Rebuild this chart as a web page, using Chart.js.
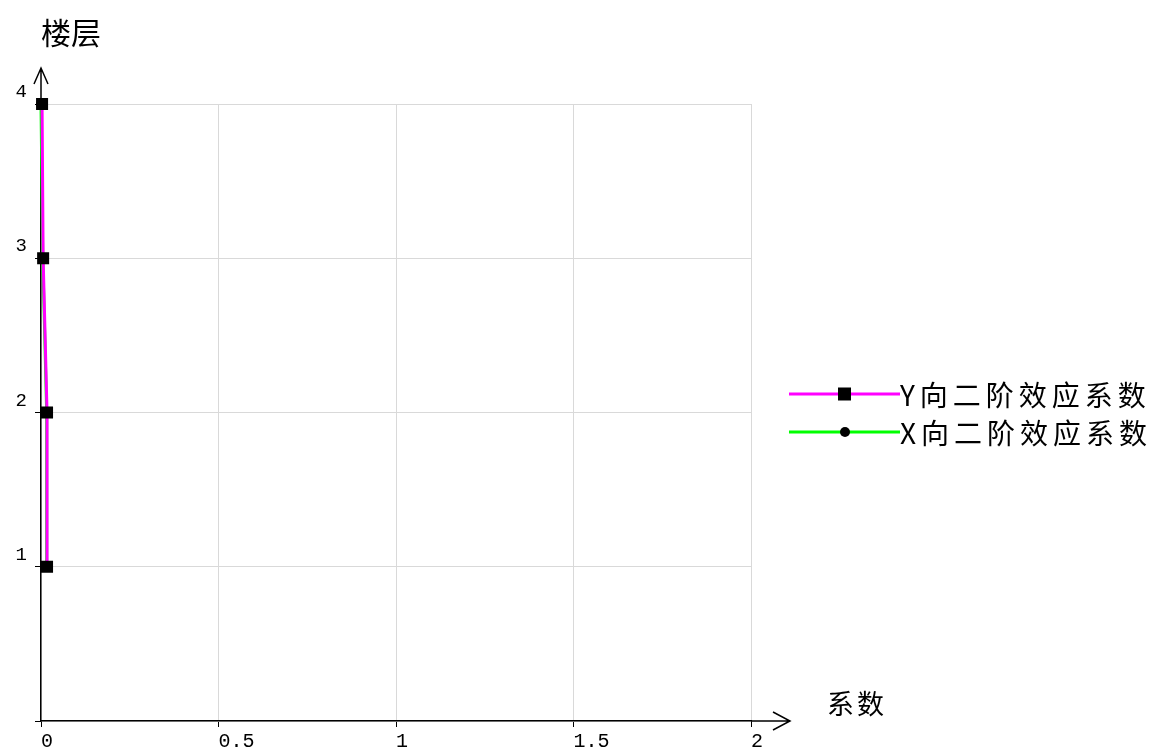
<!DOCTYPE html>
<html>
<head>
<meta charset="utf-8">
<script src="https://cdn.jsdelivr.net/npm/chart.js@4.4.0/dist/chart.umd.min.js"></script>
<style>
html, body { margin: 0; padding: 0; background: #fff; }
#wrap { width: 1154px; height: 750px; }
</style>
</head>
<body>
<div id="wrap"><canvas id="coefchart" width="1154" height="750"></canvas></div>
<script>
// floors on the vertical axis, coefficients on the horizontal one
var floors = [1, 2, 3, 4];
var yCoef = [0.017, 0.017, 0.006, 0.003];
var xCoef = [0.016, 0.016, 0.005, 0.0];
var xTicks = [0, 0.5, 1, 1.5, 2];
var xTickLabels = ["0", "0.5", "1", "1.5", "2"];
var yTicks = [0, 1, 2, 3, 4];
var yTickLabels = ["", "1", "2", "3", "4"];
var seriesNames = ["Y向二阶效应系数", "X向二阶效应系数"];
var yTitle = "楼层";
var xTitle = "系数";

function toPoints(vals) {
  var out = [];
  for (var i in floors) out.push({ x: vals[i], y: floors[i] });
  return out;
}

var cjk = '"Noto Sans CJK SC", "Noto Sans", sans-serif';
var numFont = '"Liberation Mono", "DejaVu Sans Mono", monospace';

// arrows, axis titles and the line+marker legend
var extras = {
  id: 'extras',
  afterDraw: function (chart) {
    var ctx = chart.ctx;
    var a = chart.chartArea;
    ctx.save();
    ctx.strokeStyle = '#000';
    ctx.lineWidth = 1.5;
    ctx.beginPath();
    ctx.moveTo(a.left, a.top);
    ctx.lineTo(a.left, a.top - 36);
    ctx.moveTo(a.left - 7, a.top - 20);
    ctx.lineTo(a.left, a.top - 36);
    ctx.lineTo(a.left + 7, a.top - 20);
    ctx.moveTo(a.right, a.bottom);
    ctx.lineTo(a.right + 39, a.bottom);
    ctx.moveTo(a.right + 22, a.bottom - 9);
    ctx.lineTo(a.right + 39, a.bottom);
    ctx.lineTo(a.right + 22, a.bottom + 9);
    ctx.stroke();

    ctx.fillStyle = '#000';
    ctx.textBaseline = 'middle';
    ctx.textAlign = 'left';
    ctx.font = '30px ' + cjk;
    ctx.fillText(yTitle, 41, 33);
    ctx.font = '27px ' + cjk;
    ctx.letterSpacing = '3px';
    ctx.fillText(xTitle, 827, 704);

    var rows = [394, 432];
    ctx.font = '28px ' + cjk;
    ctx.letterSpacing = '5px';
    chart.data.datasets.forEach(function (ds, i) {
      var y = rows[i];
      ctx.strokeStyle = ds.borderColor;
      ctx.lineWidth = 3;
      ctx.beginPath();
      ctx.moveTo(789, y);
      ctx.lineTo(900, y);
      ctx.stroke();
      ctx.fillStyle = '#000';
      if (ds.pointStyle === 'rect') {
        ctx.fillRect(838, y - 6.5, 13, 13);
      } else {
        ctx.beginPath();
        ctx.arc(845, y, 5, 0, Math.PI * 2);
        ctx.fill();
      }
      ctx.fillText(ds.label, 900, y + 1);
    });
    ctx.restore();
  }
};

var ctx = document.getElementById('coefchart');
var coefChart = new Chart(ctx, {
  type: 'line',
  data: {
    datasets: [
      {
        label: seriesNames[0],
        data: toPoints(yCoef),
        borderColor: '#ff00ff',
        backgroundColor: '#ff00ff',
        borderWidth: 3,
        tension: 0,
        fill: false,
        clip: false,
        pointStyle: 'rect',
        pointRadius: 8.5,
        pointBackgroundColor: '#000',
        pointBorderColor: '#000',
        pointBorderWidth: 0
      },
      {
        label: seriesNames[1],
        data: toPoints(xCoef),
        borderColor: '#00ff00',
        backgroundColor: '#00ff00',
        borderWidth: 3,
        tension: 0,
        fill: false,
        clip: false,
        pointStyle: 'circle',
        pointRadius: 5,
        pointBackgroundColor: '#000',
        pointBorderColor: '#000',
        pointBorderWidth: 0
      }
    ]
  },
  options: {
    responsive: false,
    animation: false,
    devicePixelRatio: 1,
    layout: { padding: { left: 0, top: 104, right: 403, bottom: 0 } },
    plugins: { legend: { display: false }, tooltip: { enabled: false } },
    scales: {
      x: {
        type: 'linear',
        min: 0,
        max: 2,
        afterBuildTicks: function (s) { s.ticks = xTicks.map(function (v) { return { value: v }; }); },
        afterFit: function (s) { s.height = 29; },
        grid: { color: '#d9d9d9', tickColor: '#000', tickLength: 6, lineWidth: 1 },
        border: { color: '#000', width: 1.5 },
        ticks: {
          align: 'start',
          padding: 3,
          color: '#000',
          font: { family: numFont, size: 20 },
          callback: function (v, i) { return xTickLabels[i]; }
        }
      },
      y: {
        type: 'linear',
        min: 0,
        max: 4,
        afterBuildTicks: function (s) { s.ticks = yTicks.map(function (v) { return { value: v }; }); },
        afterFit: function (s) { s.width = 41; },
        grid: { color: '#d9d9d9', tickColor: '#000', tickLength: 6, lineWidth: 1 },
        border: { color: '#000', width: 1.5 },
        ticks: {
          padding: 8,
          labelOffset: -12,
          color: '#000',
          font: { family: numFont, size: 19 },
          callback: function (v, i) { return yTickLabels[i]; }
        }
      }
    }
  },
  plugins: [extras]
});
</script>
</body>
</html>
